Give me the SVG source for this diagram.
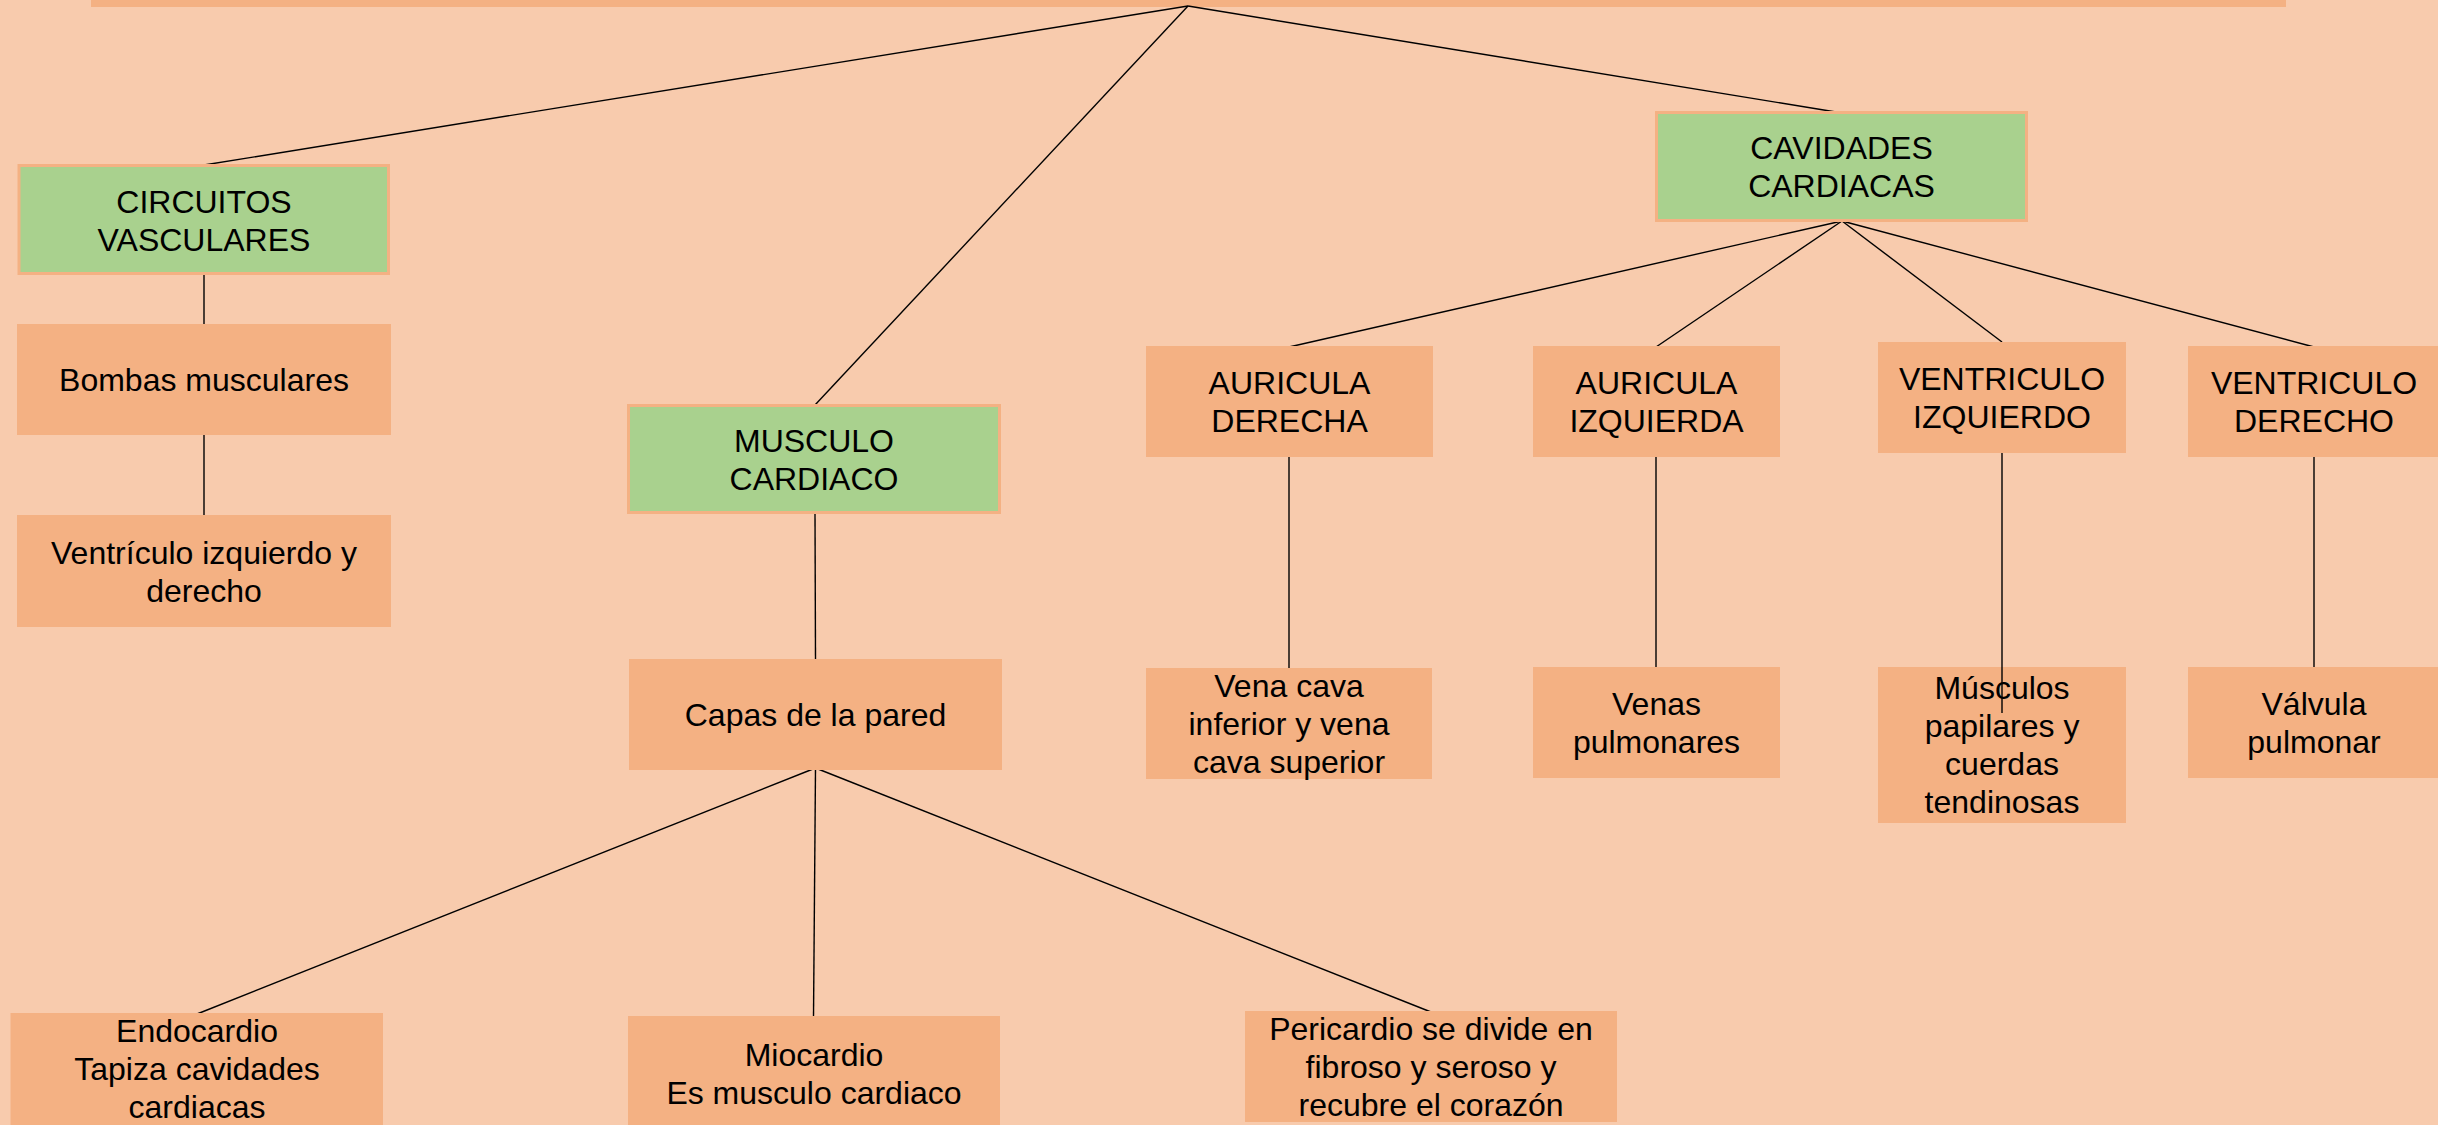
<svg xmlns="http://www.w3.org/2000/svg" width="2438" height="1125" viewBox="0 0 2438 1125">
<style>
.bg{fill:#F8CBAD}
.box{fill:#F4B183}
.gbox{fill:#A9D18E;stroke:#F4B183;stroke-width:3}
text{font-family:"Liberation Sans",Arial,sans-serif;font-size:32px;fill:#000;text-anchor:middle}
.c line{stroke:#000;stroke-width:1.4;fill:none}
</style>
<rect class="bg" x="0" y="0" width="2438" height="1125"/>
<g id="title"><rect class="box" x="91" y="-50" width="2195" height="57"/></g>
<g id="connectors" class="c">
<line x1="1188" y1="6" x2="204" y2="165"/>
<line x1="1188" y1="6" x2="815" y2="405"/>
<line x1="1188" y1="6" x2="1842" y2="113"/>
<line x1="204" y1="274" x2="204" y2="325"/>
<line x1="204" y1="434" x2="204" y2="517"/>
<line x1="815" y1="513" x2="815.5" y2="660"/>
<line x1="815.5" y1="768" x2="197" y2="1014"/>
<line x1="815.5" y1="768" x2="813.5" y2="1017"/>
<line x1="815.5" y1="768" x2="1431" y2="1012"/>
<line x1="1842" y1="221" x2="1289" y2="347"/>
<line x1="1842" y1="221" x2="1656" y2="347"/>
<line x1="1842" y1="221" x2="2002" y2="342"/>
<line x1="1842" y1="221" x2="2314" y2="347"/>
<line x1="1289" y1="456" x2="1289" y2="669"/>
<line x1="1656" y1="456" x2="1656" y2="668"/>
<line x1="2002" y1="452" x2="2002" y2="713"/>
<line x1="2314" y1="456" x2="2314" y2="668"/>
</g>
<g id="circuitos"><rect class="gbox" x="19" y="165.5" width="369.5" height="108"/><text x="204" y="212.5">CIRCUITOS</text><text x="204" y="250.5">VASCULARES</text></g>
<g id="bombas"><rect class="box" x="17" y="324" width="374" height="111"/><text x="204" y="391">Bombas musculares</text></g>
<g id="ventriculo"><rect class="box" x="17" y="515" width="374" height="112"/><text x="204" y="563.5">Ventrículo izquierdo y</text><text x="204" y="601.5">derecho</text></g>
<g id="musculo"><rect class="gbox" x="628.5" y="405.5" width="371" height="107"/><text x="814" y="451.5">MUSCULO</text><text x="814" y="489.5">CARDIACO</text></g>
<g id="capas"><rect class="box" x="629" y="659" width="373" height="111"/><text x="815.5" y="726">Capas de la pared</text></g>
<g id="endocardio"><rect class="box" x="10.5" y="1013" width="372.5" height="114"/><text x="197" y="1042">Endocardio</text><text x="197" y="1080">Tapiza cavidades</text><text x="197" y="1118">cardiacas</text></g>
<g id="miocardio"><rect class="box" x="628" y="1016" width="372" height="114"/><text x="814" y="1065.5">Miocardio</text><text x="814" y="1103.5">Es musculo cardiaco</text></g>
<g id="pericardio"><rect class="box" x="1245" y="1011" width="372" height="111"/><text x="1431" y="1039.5">Pericardio se divide en</text><text x="1431" y="1077.5">fibroso y seroso y</text><text x="1431" y="1115.5">recubre el corazón</text></g>
<g id="cavidades"><rect class="gbox" x="1656.5" y="112.5" width="370" height="108"/><text x="1841.5" y="159">CAVIDADES</text><text x="1841.5" y="197">CARDIACAS</text></g>
<g id="auricula-derecha"><rect class="box" x="1146" y="346" width="287" height="111"/><text x="1289.5" y="393.5">AURICULA</text><text x="1289.5" y="431.5">DERECHA</text></g>
<g id="auricula-izquierda"><rect class="box" x="1533" y="346" width="247" height="111"/><text x="1656.5" y="393.5">AURICULA</text><text x="1656.5" y="431.5">IZQUIERDA</text></g>
<g id="ventriculo-izquierdo"><rect class="box" x="1878" y="342" width="248" height="111"/><text x="2002" y="389.5">VENTRICULO</text><text x="2002" y="427.5">IZQUIERDO</text></g>
<g id="ventriculo-derecho"><rect class="box" x="2188" y="346" width="252" height="111"/><text x="2314" y="393.5">VENTRICULO</text><text x="2314" y="431.5">DERECHO</text></g>
<g id="vena-cava"><rect class="box" x="1146" y="668" width="286" height="111"/><text x="1289" y="697">Vena cava</text><text x="1289" y="735">inferior y vena</text><text x="1289" y="773">cava superior</text></g>
<g id="venas-pulmonares"><rect class="box" x="1533" y="667" width="247" height="111"/><text x="1656.5" y="715">Venas</text><text x="1656.5" y="753">pulmonares</text></g>
<g id="musculos-papilares"><rect class="box" x="1878" y="667" width="248" height="156"/><text x="2002" y="699">Músculos</text><text x="2002" y="737">papilares y</text><text x="2002" y="775">cuerdas</text><text x="2002" y="813">tendinosas</text></g>
<g id="valvula-pulmonar"><rect class="box" x="2188" y="667" width="252" height="111"/><text x="2314" y="715">Válvula</text><text x="2314" y="753">pulmonar</text></g>
<g id="connectors-over" class="c"><line x1="2002" y1="667" x2="2002" y2="713"/></g>
</svg>
